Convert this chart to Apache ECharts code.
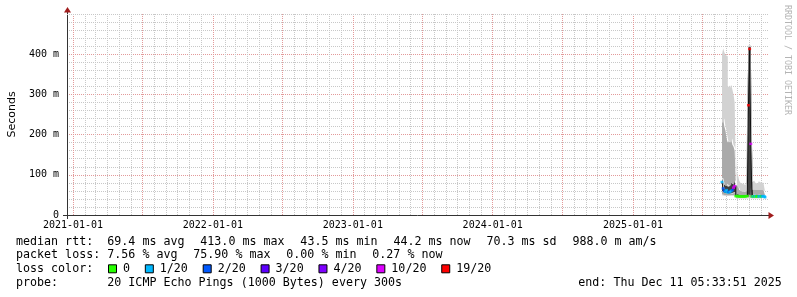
<!DOCTYPE html>
<html><head><meta charset="utf-8">
<script src="https://cdn.jsdelivr.net/npm/echarts@6/dist/echarts.min.js"></script>
<style>html,body{margin:0;padding:0;background:#fff}#c{width:797px;height:297px}</style>
</head><body><div id="c"></div>
<script>
// ---- data (ms) ----
const dates = ['2025-08-21','2025-08-24','2025-08-27','2025-08-30','2025-09-02','2025-09-05','2025-09-08','2025-09-11','2025-09-14','2025-09-17','2025-09-20','2025-09-23','2025-09-26','2025-09-29','2025-10-02','2025-10-05','2025-10-08','2025-10-11','2025-10-14','2025-10-17','2025-10-20','2025-10-23','2025-10-26','2025-10-29','2025-11-01','2025-11-04','2025-11-07','2025-11-10','2025-11-13','2025-11-16','2025-11-19','2025-11-22','2025-11-25','2025-11-28','2025-12-01','2025-12-04','2025-12-07','2025-12-10','2025-12-11'];
const pingMin = [49,48,48,47,47,47,47,47,47,47,47,47,41,41,41,41,41,41,41,41,41,41,41,42,42,42,41,41,41,41,41,41,41,41,41,41,41,41,41];
const pingLo  = [52,51,50,50,50,49,49,49,50,49,50,50,43,43,43,43,43,43,43,43,43,43,44,45,45,46,43,43,43,43,43,43,43,43,43,43,43,43,43];
const pingQ1  = [60,58,55,54,55,52,53,53,54,54,56,58,45,45,45,45,45,45,45,45,45,45,46,52,48,150,45,45,45,45,45,45,45,45,45,45,45,45,44];
const median  = [82,66,60,58,62,56,58,57,60,62,68,72,47,47,47,46,46,46,46,46,46,47,47,273,413,177,46,46,46,47,46,46,46,47,46,46,47,46,44.2];
const pingQ3  = [92,80,75,72,78,70,72,75,80,76,82,88,52,52,51,50,50,50,50,50,50,51,268,418,418,182,50,50,50,51,50,50,50,51,50,50,51,50,50];
const pingHi  = [230,240,220,210,190,180,185,180,190,175,170,160,75,72,68,62,60,60,58,58,58,60,272,420,420,188,62,64,62,62,60,62,64,62,60,62,60,62,60];
const pingMax = [400,414,405,398,395,318,322,316,324,312,300,280,112,105,98,85,80,78,76,75,76,78,276,422,422,192,82,85,82,80,78,82,84,80,78,80,78,82,78];
const lostPings = [1,2,2,1,1,1,2,1,1,2,10,10,0,0,0,0,0,0,0,0,0,0,0,19,19,10,0,1,0,1,0,0,1,1,0,1,1,1,1];

const yTickValues = [0,100,200,300,400];
const xLabelDates = ['2021-01-01','2022-01-01','2023-01-01','2024-01-01','2025-01-01'];
const lossLevels = [0,1,2,3,4,10,19];
const lossColors = ['#26ff00','#00b8ff','#0059ff','#5e00ff','#7e00ff','#dd00ff','#ff0000'];
const lossLabels = ['0','1/20','2/20','3/20','4/20','10/20','19/20'];
const rttStats = ['69.4 ms avg','413.0 ms max','43.5 ms min','44.2 ms now','70.3 ms sd','988.0 m am/s'];
const lossStats = ['7.56 % avg','75.90 % max','0.00 % min','0.27 % now'];
const probeText = '20 ICMP Echo Pings (1000 Bytes) every 300s';
const endText = 'end: Thu Dec 11 05:33:51 2025';
const rangeStart = '2020-12-16T08:00:00';
const rangeEnd = '2025-12-19T05:00:00';

// ---- build ----
const ts = dates.map(d => +new Date(d + 'T05:33:51'));
const bandsLevels = [pingMin, pingLo, pingQ1, median, pingQ3, pingHi, pingMax];
const bandColors = ['#d2d2d2','#aaaaaa','#404040','#404040','#aaaaaa','#d2d2d2'];
const GRID_GRAY = '#c8c8c8', GRID_RED = '#e39a9a';
const xMin = +new Date(rangeStart), xMax = +new Date(rangeEnd);

const monthTicks = [], halfTicks = [];
for (let y = 2020; y <= 2025; y++) for (let m = 0; m < 12; m++) {
  const t = +new Date(y, m, 1);
  if (t < xMin || t > xMax) continue;
  if (m % 6 === 0) halfTicks.push(t); else monthTicks.push(t);
}

const series = [];
series.push({
  type: 'line', stack: 'smoke', step: 'end', symbol: 'none', silent: true,
  lineStyle: {width: 0}, data: ts.map((t, i) => [t, pingMin[i]]), z: 2,
  markLine: {
    silent: true, symbol: 'none', z: 1, animation: false, label: {show: false},
    data: [{yAxis: 500, lineStyle: {color: GRID_GRAY, width: 1, type: [1, 1]}}]
  }
});
for (let b = 0; b < 6; b++) {
  const lo = bandsLevels[b], hi = bandsLevels[b + 1];
  series.push({
    type: 'line', stack: 'smoke', step: 'end', symbol: 'none', silent: true, z: 2,
    lineStyle: {width: 0}, areaStyle: {color: bandColors[b], opacity: 1},
    data: ts.map((t, i) => [t, Math.max(0, hi[i] - lo[i])])
  });
}
series.push({
  type: 'line', step: 'end', symbol: 'none', silent: true, z: 3,
  lineStyle: {width: 1, color: '#111'},
  data: ts.map((t, i) => [t, median[i]])
});
series.push({
  type: 'scatter', symbol: 'rect', symbolSize: [3, 2.5], silent: true, z: 4,
  data: ts.map((t, i) => [t, median[i], lostPings[i]])
});
const scatterIdx = series.length - 1;

const pieces = lossLevels.map((l, i) => ({gte: l, lt: i < lossLevels.length - 1 ? lossLevels[i + 1] : 21, color: lossColors[i]}));

// legend text graphics
const MONO = 'DejaVu Sans Mono';
const CW = 7.02, FS = 11.66, GAP = 15.8;
const g = [];
function txt(x, y, s, extra) {
  g.push(Object.assign({type: 'text', x: x, y: y, silent: true,
    style: {text: s, font: FS + 'px "' + MONO + '"', fill: '#000', textVerticalAlign: 'middle'}}, extra || {}));
}
const rows = [241.7, 255.0, 269.3, 283.3];
txt(16, rows[0], 'median rtt:');
let x = 107.3;
rttStats.forEach(s => { txt(x, rows[0], s); x += s.length * CW + GAP; });
txt(16, rows[1], 'packet loss:');
x = 107.3;
lossStats.forEach(s => { txt(x, rows[1], s); x += s.length * CW + GAP; });
txt(16, rows[2], 'loss color:');
x = 108;
lossLabels.forEach((s, i) => {
  g.push({type: 'rect', silent: true, shape: {x: x + 0.5, y: rows[2] - 4.5, width: 8, height: 8},
    style: {fill: lossColors[i], stroke: '#000', lineWidth: 1}});
  txt(x + 15, rows[2], s);
  x = x + 15 + s.length * CW + 14.8;
});
txt(16, rows[3], 'probe:');
txt(107.3, rows[3], probeText);
txt(578.3, rows[3], endText);
g.push({type: 'text', x: 787, y: 60, rotation: -Math.PI / 2, silent: true,
  style: {text: 'RRDTOOL / TOBI OETIKER', font: '8.3px "' + MONO + '"', fill: '#b4b4b4', textAlign: 'center', textVerticalAlign: 'middle'}});
// axis line extensions and arrows
g.push({type: 'line', silent: true, shape: {x1: 63, y1: 215.5, x2: 68, y2: 215.5}, style: {stroke: '#333', lineWidth: 1}});
g.push({type: 'line', silent: true, shape: {x1: 67.5, y1: 214, x2: 67.5, y2: 219}, style: {stroke: '#333', lineWidth: 1}});
g.push({type: 'line', silent: true, shape: {x1: 767, y1: 215.5, x2: 770, y2: 215.5}, style: {stroke: '#333', lineWidth: 1}});
g.push({type: 'line', silent: true, shape: {x1: 67.5, y1: 11, x2: 67.5, y2: 15}, style: {stroke: '#333', lineWidth: 1}});
g.push({type: 'polygon', silent: true, shape: {points: [[67.5, 7], [64, 12.5], [71, 12.5]]}, style: {fill: '#a01c1c'}});
g.push({type: 'polygon', silent: true, shape: {points: [[774, 215.5], [768.5, 212], [768.5, 219]]}, style: {fill: '#a01c1c'}});

const chart = echarts.init(document.getElementById('c'), null, {renderer: 'canvas'});
chart.setOption({
  animation: false,
  backgroundColor: '#fff',
  grid: {left: 67, right: 29, top: 14, bottom: 82, containLabel: false, outerBoundsMode: 'none'},
  xAxis: [{
    type: 'time', min: xMin, max: xMax,
    axisLine: {show: true, lineStyle: {color: '#333', width: 1}},
    axisTick: {show: false, customValues: halfTicks},
    splitLine: {show: true, lineStyle: {color: GRID_RED, type: [1, 1], width: 1}},
    axisLabel: {
      customValues: xLabelDates.map(d => +new Date(d + 'T00:00:00')),
      formatter: '{yyyy}-{MM}-{dd}',
      fontFamily: MONO, fontSize: 10, color: '#000', margin: 5,
      showMinLabel: true, showMaxLabel: true, hideOverlap: false
    }
  }, {
    type: 'time', min: xMin, max: xMax, position: 'bottom',
    axisLine: {show: false}, axisLabel: {show: false},
    axisTick: {show: false, customValues: monthTicks},
    splitLine: {show: true, lineStyle: {color: GRID_GRAY, type: [1, 1], width: 1}}
  }],
  yAxis: {
    type: 'value', min: 0, max: 500, interval: 100,
    name: 'Seconds', nameLocation: 'middle', nameGap: 48,
    nameTextStyle: {fontFamily: 'DejaVu Sans', fontSize: 11, color: '#000'},
    axisLine: {show: true, lineStyle: {color: '#333', width: 1}},
    axisTick: {show: false},
    axisLabel: {
      customValues: yTickValues,
      formatter: v => v === 0 ? '0' : v + ' m',
      fontFamily: MONO, fontSize: 10, color: '#000', margin: 8
    },
    splitLine: {show: true, showMinLine: false, showMaxLine: false, lineStyle: {color: GRID_RED, type: [1, 1], width: 1}},
    minorTick: {show: false, splitNumber: 5},
    minorSplitLine: {show: true, lineStyle: {color: GRID_GRAY, type: [1, 1], width: 1}}
  },
  visualMap: {type: 'piecewise', show: false, dimension: 2, seriesIndex: scatterIdx, pieces: pieces},
  series: series,
  graphic: g
});
</script>
</body></html>
